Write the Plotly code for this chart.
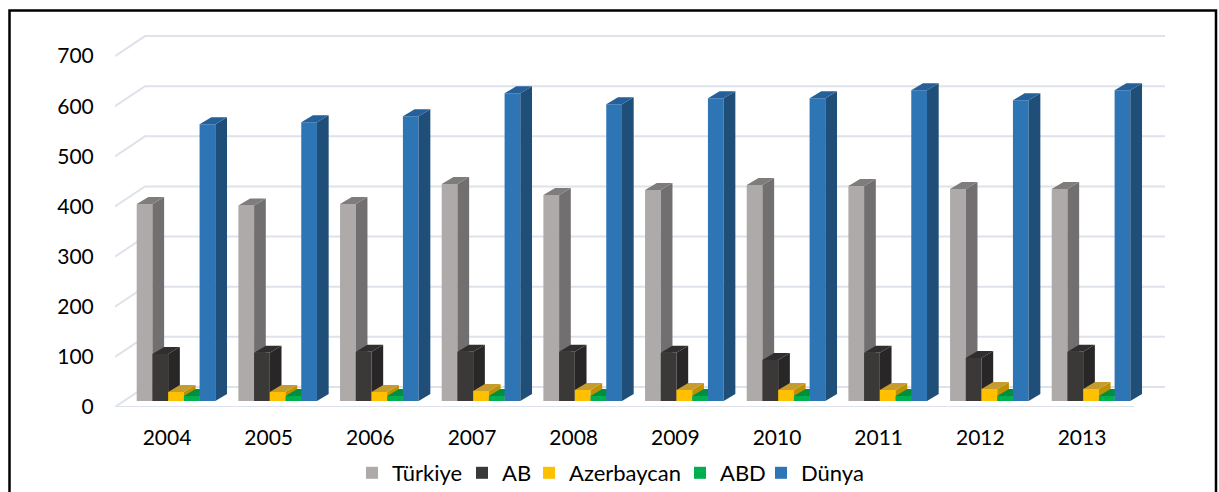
import plotly.graph_objects as go

years = ["2004", "2005", "2006", "2007", "2008", "2009", "2010", "2011", "2012", "2013"]
turkiye = [393, 390, 393, 433, 411, 421, 431, 429, 423, 423]
ab = [94, 96, 98, 98, 98, 96, 82, 96, 86, 98]
azerbaycan = [18, 18, 18, 20, 22, 22, 22, 22, 24, 24]
abd = [10, 10, 10, 10, 10, 10, 10, 10, 10, 10]
dunya = [552, 556, 568, 614, 592, 604, 604, 620, 600, 620]
y_ticks = [0, 100, 200, 300, 400, 500, 600, 700]

names = ["Türkiye", "AB", "Azerbaycan", "ABD", "Dünya"]
values = [turkiye, ab, azerbaycan, abd, dunya]
front = ["#AEAAAA", "#3B3838", "#FFC000", "#00B050", "#2E75B6"]
side = ["#716F6F", "#282626", "#BF9000", "#00843C", "#1F4E79"]
top = ["#7F7C7C", "#302E2E", "#C69C2E", "#008F41", "#25609A"]
legend_widths = [65, 22, 106, 36, 60]
grid_color = "#DEE2EB"
FONT = "Lato"

W, H = 1219, 492
L, R_PX, T, B_PX = 115, 1165, 26, 407
x_unit = 101.67          # px per category
y_unit = 381 / 760       # px per value
x_min = -(167 - L) / x_unit
x_max = x_min + (R_PX - L) / x_unit
x_front_end = (1134 - 167) / x_unit
y_max = 760

wall_dx, wall_dy = 30 / x_unit, 20 / y_unit
bar_w = 15.72 / x_unit
bar_start = -30.3 / x_unit
bar_dx, bar_dy = 11.7 / x_unit, 7 / y_unit
base = 6 / y_unit

fig = go.Figure()

gx, gy = [x_min, x_front_end, None], [0, 0, None]
for t in y_ticks:
    gx += [x_min, x_min + wall_dx, x_max, None]
    gy += [t, t + wall_dy, t + wall_dy, None]
fig.add_trace(go.Scatter(x=gx, y=gy, mode="lines", line=dict(color=grid_color, width=2),
                         showlegend=False, hoverinfo="skip", xaxis="x", yaxis="y"))

for s, (name, vals) in enumerate(zip(names, values)):
    xa, ya = f"x{s + 2}", f"y{s + 2}"
    off = bar_start + s * bar_w
    sx, sy, tx, ty = [], [], [], []
    for i, v in enumerate(vals):
        l, r = i + off, i + off + bar_w
        top_y = base + v
        sx += [r, r + bar_dx, r + bar_dx, r, r, None]
        sy += [top_y, top_y + bar_dy, base + bar_dy, base, top_y, None]
        tx += [l, l + bar_dx, r + bar_dx, r, l, None]
        ty += [top_y, top_y + bar_dy, top_y + bar_dy, top_y, top_y, None]
    fig.add_trace(go.Scatter(x=sx, y=sy, mode="lines", fill="toself", fillcolor=side[s],
                             line=dict(width=0, color=side[s]), showlegend=False,
                             hoverinfo="skip", xaxis=xa, yaxis=ya))
    fig.add_trace(go.Scatter(x=tx, y=ty, mode="lines", fill="toself", fillcolor=top[s],
                             line=dict(width=0, color=top[s]), showlegend=False,
                             hoverinfo="skip", xaxis=xa, yaxis=ya))
    fig.add_trace(go.Bar(x=list(range(len(years))), y=vals, base=base, width=bar_w, offset=off,
                         name=name, legendwidth=legend_widths[s],
                         marker=dict(color=front[s], line=dict(width=0)),
                         xaxis=xa, yaxis=ya))

layout = dict(
    width=W, height=H, autosize=False,
    margin=dict(l=L, r=W - R_PX, t=T, b=H - B_PX, pad=0, autoexpand=False),
    paper_bgcolor="white", plot_bgcolor="rgba(0,0,0,0)",
    barmode="overlay",
    font=dict(family=FONT, size=21, color="black"),
    xaxis=dict(range=[x_min, x_max], tickvals=list(range(len(years))), ticktext=years,
               showgrid=False, zeroline=False, showline=False, ticks="outside", ticklen=12,
               tickcolor="rgba(0,0,0,0)", automargin=False,
               tickfont=dict(family=FONT, size=21, color="black")),
    yaxis=dict(range=[0, y_max], tickvals=y_ticks, showgrid=False, zeroline=False, showline=False,
               ticks="outside", ticklen=16, tickcolor="rgba(0,0,0,0)", automargin=False,
               tickfont=dict(family=FONT, size=21, color="black")),
    legend=dict(orientation="h", xanchor="left", yanchor="middle",
                x=(352 - L) / (R_PX - L), y=(B_PX - 473) / (B_PX - T),
                font=dict(family=FONT, size=22, color="black"), itemwidth=30,
                bgcolor="rgba(0,0,0,0)", traceorder="normal"),
    shapes=[dict(type="rect", xref="paper", yref="paper",
                 x0=(9.5 - L) / (R_PX - L), x1=(1216 - L) / (R_PX - L),
                 y0=(B_PX - 510) / (B_PX - T), y1=(B_PX - 10.5) / (B_PX - T),
                 line=dict(color="black", width=2.5), fillcolor="rgba(0,0,0,0)")],
)
for s in range(len(names)):
    layout[f"xaxis{s + 2}"] = dict(range=[x_min, x_max], overlaying="x", visible=False)
    layout[f"yaxis{s + 2}"] = dict(range=[0, y_max], overlaying="y", visible=False)
fig.update_layout(**layout)

fig.write_html("out.html", config={"displayModeBar": False},
               post_script="document.body.style.margin='0';document.body.style.overflow='hidden';")
